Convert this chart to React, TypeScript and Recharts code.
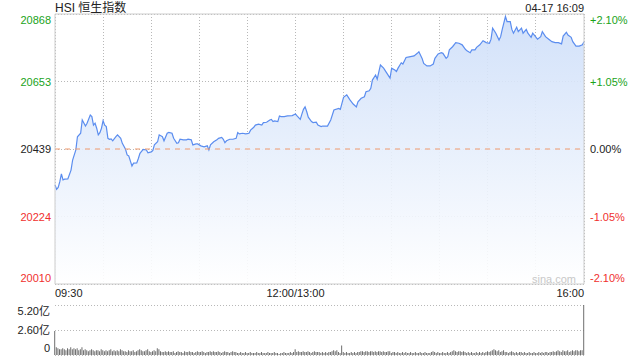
import React from 'react';
import {
    ComposedChart,
    Area,
    Line,
    Bar,
    XAxis,
    YAxis,
    CartesianGrid,
    ReferenceLine,
} from 'recharts';

const FONT = '"Liberation Sans", Arial, "Noto Sans CJK SC", sans-serif';
const UP = '#1aa31a';
const DOWN = '#f0302e';
const FLAT = '#222';
const GRID = '#b8b8b8';

const PREV_CLOSE = 20439;
const PRICE_TICKS = [20010, 20224, 20439, 20653, 20868];
const PCT_LABELS = ['-2.10%', '-1.05%', '0.00%', '+1.05%', '+2.10%'];

// trading minutes since 09:30 (12:00 and 13:00 share slot 150)
const TIME_TICKS = [0, 30, 60, 90, 120, 150, 180, 210, 240, 270, 300, 330];
const TIME_LABELS: Record<number, string> = { 0: '09:30', 150: '12:00/13:00', 330: '16:00' };

const VOL_TICKS = [0, 2.6, 5.2];
const VOL_LABELS = ['0', '2.60亿', '5.20亿'];

const minutes = [
    0, 1, 2, 3, 4, 5, 6, 8, 10, 11, 13, 14, 16, 17, 19, 20, 22, 23, 24, 25,
    26, 27, 28, 29, 30, 31, 32, 33, 34, 35, 36, 38, 39, 41, 42, 44, 45, 46, 48, 49,
    51, 52, 53, 55, 57, 58, 60, 61, 62, 64, 65, 67, 68, 70, 71, 73, 74, 76, 77, 78,
    80, 82, 83, 85, 86, 88, 89, 91, 93, 95, 96, 97, 99, 101, 102, 104, 105, 106, 107, 109,
    111, 113, 114, 115, 117, 119, 121, 122, 124, 125, 127, 129, 130, 132, 134, 135, 136, 137, 139, 140,
    141, 143, 145, 148, 150, 151, 153, 154, 155, 156, 157, 158, 160, 161, 163, 164, 166, 167, 170, 172,
    174, 177, 178, 180, 182, 184, 186, 188, 189, 191, 193, 194, 196, 197, 198, 200, 201, 203, 205, 207,
    209, 210, 212, 213, 214, 216, 217, 219, 221, 224, 226, 227, 229, 230, 232, 234, 236, 237, 239, 241,
    242, 244, 245, 246, 248, 250, 252, 254, 256, 257, 259, 260, 262, 263, 265, 267, 269, 271, 272, 273,
    275, 277, 278, 279, 281, 282, 284, 285, 286, 288, 289, 291, 292, 294, 295, 297, 298, 299, 301, 303,
    304, 306, 308, 310, 312, 314, 316, 317, 319, 320, 322, 323, 325, 327, 329, 330,
];

const prices = [
    20325, 20311, 20317, 20335, 20360, 20341, 20343, 20344, 20372, 20404, 20436, 20478, 20489, 20531, 20512, 20521, 20547, 20542, 20515, 20521,
    20505, 20484, 20491, 20505, 20529, 20515, 20510, 20473, 20470, 20471, 20465, 20478, 20484, 20473, 20457, 20438, 20420, 20417, 20385, 20394,
    20395, 20409, 20425, 20438, 20436, 20427, 20430, 20434, 20452, 20462, 20484, 20478, 20465, 20489, 20492, 20489, 20473, 20457, 20459, 20470,
    20468, 20468, 20470, 20468, 20452, 20455, 20455, 20449, 20446, 20449, 20436, 20452, 20462, 20468, 20473, 20476, 20470, 20459, 20465, 20470,
    20470, 20473, 20491, 20487, 20489, 20487, 20489, 20499, 20508, 20515, 20518, 20515, 20523, 20524, 20531, 20533, 20526, 20528, 20526, 20544,
    20542, 20542, 20544, 20545, 20550, 20544, 20533, 20550, 20565, 20573, 20558, 20540, 20526, 20523, 20524, 20515, 20510, 20512, 20512, 20531,
    20563, 20568, 20565, 20603, 20611, 20595, 20582, 20573, 20589, 20600, 20605, 20621, 20624, 20632, 20658, 20674, 20661, 20706, 20696, 20680,
    20664, 20696, 20690, 20685, 20696, 20713, 20709, 20730, 20732, 20735, 20743, 20748, 20727, 20711, 20703, 20703, 20709, 20727, 20741, 20745,
    20743, 20727, 20732, 20754, 20764, 20777, 20775, 20770, 20756, 20751, 20745, 20754, 20754, 20762, 20770, 20783, 20777, 20775, 20788, 20823,
    20807, 20785, 20796, 20819, 20860, 20844, 20844, 20819, 20807, 20826, 20812, 20823, 20807, 20819, 20807, 20794, 20807, 20801, 20788, 20796,
    20812, 20796, 20788, 20780, 20777, 20777, 20773, 20798, 20810, 20801, 20794, 20780, 20766, 20766, 20770, 20780,
];

// turnover per minute, in 亿
const volumes = [
    2.5,
    0.8, 0.7, 0.6, 0.6, 0.7, 0.6, 0.5, 0.7, 0.6, 0.8, 0.6, 0.7,
    0.6, 0.7, 0.5, 0.6, 0.8,
    0.5, 0.6, 0.5, 0.4, 0.5, 0.6, 0.5, 0.4, 0.5, 0.5, 0.4, 0.6, 0.5, 0.4, 0.5, 0.4, 0.5, 0.6, 0.4, 0.5, 0.4, 0.5,
    0.4, 0.6, 0.5, 0.4, 0.4, 0.3, 0.5, 0.4, 0.4, 0.5, 0.3, 0.4, 0.5, 0.6, 0.5, 0.4, 0.4, 0.5, 0.6, 0.4, 0.3, 0.4, 0.5, 0.4, 0.7, 0.6,
    0.4, 0.3, 0.3, 0.4, 0.3, 0.4, 0.3, 0.3, 0.4, 0.2, 0.3, 0.4, 0.3, 0.3, 0.2, 0.4, 0.3, 0.3, 0.4, 0.3, 0.3, 0.2, 0.3, 0.4, 0.3, 0.3, 0.4, 0.3, 0.2, 0.3, 0.3, 0.4,
    0.3, 0.4, 0.3, 0.3, 0.4, 0.3, 0.2, 0.3, 0.4, 0.3, 0.3, 0.2, 0.3, 0.4, 0.3, 0.3, 0.2,
    0.2, 0.3, 0.2, 0.2, 0.3, 0.2, 0.2, 0.3, 0.2, 0.2, 0.2, 0.3, 0.2, 0.2, 0.3, 0.2, 0.2, 0.2, 0.3, 0.2, 0.2, 0.2, 0.3, 0.2, 0.2, 0.1, 0.2, 0.2, 0.3, 0.2, 0.2, 0.2, 0.3, 0.2,
    0.3, 0.6,
    0.3, 0.4, 0.3, 0.3, 0.4, 0.3, 0.3, 0.4, 0.3, 0.2, 0.3, 0.4, 0.3, 0.3, 0.3,
    0.2, 0.3, 0.2, 0.3, 0.2, 0.3, 0.3,
    0.4, 0.5, 0.4, 0.5, 0.3, 0.2,
    1.0,
    0.3, 0.2, 0.3, 0.2, 0.2, 0.3, 0.2, 0.3, 0.2, 0.3, 0.3, 0.4,
    0.4, 0.3, 0.4, 0.4, 0.3, 0.4, 0.4, 0.3, 0.4, 0.3, 0.4, 0.4, 0.3, 0.4, 0.3, 0.3, 0.4, 0.4, 0.2, 0.3, 0.3,
    0.2, 0.3, 0.2, 0.2, 0.3, 0.2, 0.3, 0.2, 0.2, 0.3, 0.2, 0.2, 0.3, 0.2, 0.2, 0.3, 0.2, 0.2, 0.3, 0.2, 0.2, 0.2, 0.3, 0.4, 0.3, 0.2, 0.3, 0.2, 0.2, 0.3, 0.2, 0.2, 0.3, 0.2, 0.3,
    0.4, 0.5, 0.4, 0.3, 0.4, 0.4, 0.3, 0.4, 0.3,
    0.2, 0.3, 0.2, 0.3, 0.2, 0.2, 0.3, 0.2, 0.3, 0.2, 0.3, 0.2, 0.3, 0.4, 0.3, 0.4,
    0.5, 0.6, 0.5, 0.4, 0.5, 0.3, 0.4, 0.5, 0.3,
    0.3, 0.2, 0.3, 0.4, 0.3, 0.2, 0.3, 0.2, 0.3, 0.3, 0.2, 0.3, 0.2, 0.2, 0.3, 0.2, 0.2, 0.3, 0.2, 0.2, 0.3, 0.2, 0.3, 0.2, 0.3, 0.3, 0.2, 0.3,
    0.3, 0.4, 0.3, 0.4, 0.5, 0.4, 0.3, 0.5, 0.4, 0.4, 0.5, 0.3, 0.4, 0.5, 0.4, 0.5, 0.5, 0.4, 0.5, 0.5,
    5.2,
];

const priceData = minutes.map((m, i) => ({ m, price: prices[i] }));
const volumeData = volumes.map((vol, i) => ({ m: i, vol }));

const Y_MIN = PRICE_TICKS[0];
const Y_MAX = PRICE_TICKS[PRICE_TICKS.length - 1];

function edgeShift(v: number) {
    if (v === Y_MAX) return 6;
    if (v === Y_MIN) return -6;
    return 0;
}

function colorFor(v: number) {
    return v > PREV_CLOSE ? UP : v < PREV_CLOSE ? DOWN : FLAT;
}

function PriceTick({ x, y, payload }: any) {
    const v = payload.value;
    return (
        <text x={x} y={y + edgeShift(v)} dy="0.36em" textAnchor="end" fill={colorFor(v)} fontSize={11} fontFamily={FONT}>
            {v}
        </text>
    );
}

function PctTick({ x, y, payload }: any) {
    const v = payload.value;
    return (
        <text x={x} y={y + edgeShift(v)} dy="0.36em" textAnchor="start" fill={colorFor(v)} fontSize={11} fontFamily={FONT}>
            {PCT_LABELS[PRICE_TICKS.indexOf(v)]}
        </text>
    );
}

function TimeTick({ x, y, payload }: any) {
    const label = TIME_LABELS[payload.value];
    if (!label) return null;
    const anchor = payload.value === 0 ? 'start' : payload.value === 330 ? 'end' : 'middle';
    return (
        <text x={x} y={y + 9} dy="0.36em" textAnchor={anchor} fill="#222" fontSize={11} fontFamily={FONT}>
            {label}
        </text>
    );
}

function VolTick({ x, y, payload }: any) {
    const v = payload.value;
    const shift = v === 5.2 ? 6 : v === 0 ? -7 : 0;
    return (
        <text x={x} y={y + shift} dy="0.36em" textAnchor="end" fill="#222" fontSize={11} fontFamily={FONT}>
            {VOL_LABELS[VOL_TICKS.indexOf(v)]}
        </text>
    );
}

export default function App() {
    return (
        <div style={{ position: 'absolute', top: 0, left: 0, width: 640, height: 360, background: '#fff', fontFamily: FONT }}>
            <div style={{ position: 'absolute', left: 55, top: 0, fontSize: 12, lineHeight: '16px', color: '#222' }}>
                HSI 恒生指数
            </div>
            <div style={{ position: 'absolute', right: 56, top: 1, fontSize: 11, lineHeight: '14px', color: '#222' }}>
                04-17 16:09
            </div>

            <div style={{ position: 'absolute', left: 0, top: 0 }}>
                <ComposedChart width={640} height={300} data={priceData} margin={{ top: 14, right: 0, bottom: 0, left: 0 }}>
                    <defs>
                        <linearGradient id="hsiFill" x1="0" y1="0" x2="0" y2="1">
                            <stop offset="0%" stopColor="#cddef9" />
                            <stop offset="100%" stopColor="#ffffff" />
                        </linearGradient>
                    </defs>
                    <CartesianGrid stroke={GRID} strokeDasharray="1 2" shapeRendering="crispEdges" />
                    <XAxis
                        dataKey="m"
                        type="number"
                        domain={[0, 330]}
                        ticks={TIME_TICKS}
                        interval={0}
                        height={16}
                        tickSize={0}
                        tickMargin={0}
                        tickLine={false}
                        axisLine={{ stroke: '#ccc' }}
                        tick={<TimeTick />}
                    />
                    <YAxis
                        domain={[Y_MIN, Y_MAX]}
                        ticks={PRICE_TICKS}
                        interval={0}
                        width={55}
                        tickSize={0}
                        tickMargin={4}
                        tickLine={false}
                        axisLine={{ stroke: '#ccc' }}
                        tick={<PriceTick />}
                    />
                    <YAxis
                        yAxisId="right"
                        orientation="right"
                        domain={[Y_MIN, Y_MAX]}
                        ticks={PRICE_TICKS}
                        interval={0}
                        width={56}
                        tickSize={0}
                        tickMargin={6}
                        tickLine={false}
                        axisLine={{ stroke: '#ccc' }}
                        tick={<PctTick />}
                    />
                    <Area
                        dataKey="price"
                        type="linear"
                        stroke="#5b8def"
                        strokeWidth={1.2}
                        fill="url(#hsiFill)"
                        fillOpacity={0.9}
                        baseValue={Y_MIN}
                        dot={false}
                        activeDot={false}
                        isAnimationActive={false}
                    />
                    <Line
                        yAxisId="right"
                        dataKey="price"
                        stroke="none"
                        dot={false}
                        activeDot={false}
                        isAnimationActive={false}
                    />
                    <ReferenceLine y={PREV_CLOSE} stroke="#ef9a6e" strokeDasharray="5 5" />
                    <ReferenceLine y={Y_MAX} stroke="#ccc" />
                </ComposedChart>
            </div>

            <div style={{ position: 'absolute', left: 532, top: 273, fontSize: 11, lineHeight: '12px', color: '#c8c8c8' }}>
                sina.com
            </div>

            <div style={{ position: 'absolute', left: 0, top: 300 }}>
                <ComposedChart width={640} height={60} data={volumeData} margin={{ top: 5, right: 56, bottom: 5, left: 0 }}>
                    <CartesianGrid vertical={false} stroke={GRID} strokeDasharray="1 2" shapeRendering="crispEdges" />
                    <XAxis dataKey="m" type="number" domain={[0, 330]} hide />
                    <YAxis
                        domain={[0, 5.2]}
                        ticks={VOL_TICKS}
                        interval={0}
                        width={55}
                        tickSize={0}
                        tickMargin={5}
                        tickLine={false}
                        axisLine={false}
                        tick={<VolTick />}
                    />
                    <Bar dataKey="vol" fill="#6e6e6e" barSize={1} isAnimationActive={false} />
                </ComposedChart>
            </div>
        </div>
    );
}
